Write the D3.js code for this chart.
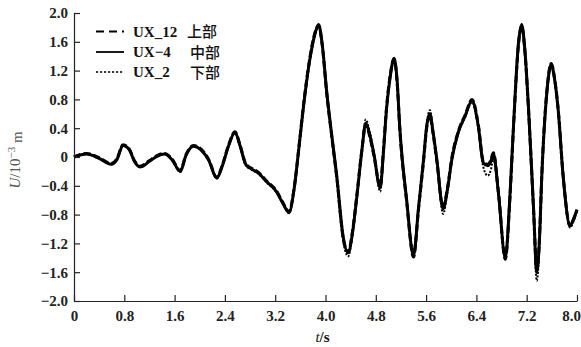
<!DOCTYPE html>
<html>
<head>
<meta charset="utf-8">
<script src="https://cdn.jsdelivr.net/npm/d3@7"></script>
<style>
	body { margin: 0; background: #fff; }
	svg { display: block; }
	text { font-family: "Liberation Serif", "DejaVu Serif", serif; fill: #111; }
	.cjk { font-family: "Noto Sans CJK SC", sans-serif; }
</style>
</head>
<body>
<svg id="chart" width="581" height="347"></svg>
<script>
// time axis (s)
const times = [
	0.00, 0.20, 0.40, 0.59, 0.68, 0.78, 0.88, 0.96, 1.05, 1.20,
	1.32, 1.44, 1.56, 1.69, 1.78, 1.90, 2.02, 2.14, 2.27, 2.36,
	2.46, 2.56, 2.64, 2.73, 2.83, 2.93, 3.06, 3.22, 3.32, 3.42,
	3.50, 3.58, 3.65, 3.75, 3.83, 3.89, 3.95, 4.02, 4.10, 4.18,
	4.28, 4.36, 4.43, 4.50, 4.58, 4.64, 4.70, 4.77, 4.87, 4.92,
	4.97, 5.03, 5.09, 5.14, 5.18, 5.29, 5.40, 5.48, 5.56, 5.61,
	5.66, 5.71, 5.77, 5.87, 5.94, 6.01, 6.11, 6.22, 6.33, 6.43,
	6.51, 6.58, 6.63, 6.67, 6.75, 6.86, 6.93, 6.99, 7.07, 7.12,
	7.17, 7.23, 7.31, 7.36, 7.40, 7.44, 7.52, 7.59, 7.64, 7.70,
	7.78, 7.89, 7.95, 8.00
];
// UX-4 middle (solid)
const ux4 = [
	0.00, 0.04, -0.02, -0.10, -0.04, 0.16, 0.10, -0.06, -0.14, -0.06,
	0.01, 0.04, -0.04, -0.20, 0.02, 0.15, 0.10, -0.04, -0.29, -0.12,
	0.16, 0.34, 0.16, -0.10, -0.17, -0.22, -0.34, -0.48, -0.64, -0.77,
	-0.45, 0.15, 0.70, 1.35, 1.70, 1.84, 1.55, 0.90, 0.30, -0.27,
	-1.10, -1.33, -1.05, -0.54, 0.10, 0.47, 0.32, 0.04, -0.43, 0.05,
	0.66, 1.12, 1.37, 1.05, 0.43, -0.59, -1.37, -0.70, -0.03, 0.43,
	0.60, 0.35, -0.03, -0.72, -0.45, -0.03, 0.34, 0.57, 0.78, 0.43,
	-0.08, -0.12, -0.06, 0.05, -0.50, -1.40, -0.60, 0.43, 1.59, 1.84,
	1.50, 0.66, -0.73, -1.60, -1.20, -0.27, 0.89, 1.29, 1.10, 0.66,
	-0.27, -0.95, -0.85, -0.73
];
// UX_12 top (dashed)
const ux12 = [
	0.00, 0.05, -0.01, -0.09, -0.03, 0.17, 0.11, -0.05, -0.13, -0.05,
	0.02, 0.05, -0.03, -0.19, 0.03, 0.16, 0.11, -0.03, -0.28, -0.11,
	0.17, 0.35, 0.17, -0.09, -0.16, -0.21, -0.33, -0.47, -0.63, -0.76,
	-0.44, 0.16, 0.72, 1.37, 1.72, 1.83, 1.54, 0.88, 0.28, -0.29,
	-1.12, -1.32, -1.03, -0.52, 0.11, 0.46, 0.30, 0.02, -0.40, 0.07,
	0.68, 1.14, 1.36, 1.03, 0.41, -0.61, -1.39, -0.72, -0.05, 0.41,
	0.58, 0.33, -0.05, -0.70, -0.43, -0.01, 0.35, 0.58, 0.80, 0.45,
	-0.06, -0.10, -0.04, 0.06, -0.48, -1.42, -0.62, 0.41, 1.57, 1.82,
	1.48, 0.64, -0.75, -1.58, -1.18, -0.25, 0.91, 1.30, 1.11, 0.67,
	-0.26, -0.96, -0.86, -0.74
];
// UX_2 bottom (dotted)
const ux2 = [
	0.00, 0.04, -0.02, -0.10, -0.04, 0.16, 0.10, -0.06, -0.14, -0.06,
	0.01, 0.04, -0.04, -0.21, 0.02, 0.15, 0.09, -0.05, -0.30, -0.13,
	0.15, 0.33, 0.15, -0.11, -0.18, -0.23, -0.35, -0.49, -0.65, -0.78,
	-0.46, 0.14, 0.68, 1.33, 1.68, 1.82, 1.52, 0.86, 0.26, -0.32,
	-1.16, -1.38, -1.08, -0.57, 0.12, 0.52, 0.36, 0.06, -0.48, 0.02,
	0.62, 1.10, 1.34, 1.02, 0.40, -0.62, -1.30, -0.68, 0.00, 0.46,
	0.65, 0.38, -0.04, -0.79, -0.48, -0.05, 0.32, 0.55, 0.76, 0.40,
	-0.14, -0.26, -0.18, -0.02, -0.55, -1.38, -0.58, 0.45, 1.60, 1.80,
	1.46, 0.62, -0.80, -1.72, -1.28, -0.30, 0.86, 1.27, 1.08, 0.64,
	-0.30, -0.98, -0.88, -0.75
];
const xTicks = [0, 0.8, 1.6, 2.4, 3.2, 4.0, 4.8, 5.6, 6.4, 7.2, 8.0];
const yTicks = [-2.0, -1.6, -1.2, -0.8, -0.4, 0, 0.4, 0.8, 1.2, 1.6, 2.0];
const seriesNames = ['UX_12', 'UX\u22124', 'UX_2'];
const seriesParts = ['上部', '中部', '下部'];

const ChartView = {
	plot: { left: 74, right: 577, top: 13, bottom: 301 },
	xScale: null, yScale: null,
	svg: null,

	init: function() {
		const self = this;
		let plot = self.plot;

		self.svg = d3.select('#chart');
		self.xScale = d3.scaleLinear()
			.domain([ 0, 8 ])
			.range([ plot.left, plot.right ]);
		self.yScale = d3.scaleLinear()
			.domain([ -2, 2 ])
			.range([ plot.bottom, plot.top ]);

		self.drawLine(ux12, '7,3', 3);
		self.drawLine(ux4, null, 3);
		self.drawLine(ux2, '2,1.6', 2);
		self.drawAxes();
		self.drawLegend();
	},

	drawAxes: function() {
		const self = this;
		let svg = self.svg;
		let plot = self.plot;
		let fmt = function(d) { return d === 0 ? '0' : d3.format('.1f')(d); };

		let xAxis = svg.append('g')
			.attr('transform', 'translate(0,' + plot.bottom + ')')
			.call(d3.axisBottom(self.xScale)
				.tickValues(xTicks)
				.tickFormat(fmt)
				.tickSizeInner(-6)
				.tickSizeOuter(0)
				.tickPadding(9));
		let yAxis = svg.append('g')
			.attr('transform', 'translate(' + plot.left + ',0)')
			.call(d3.axisLeft(self.yScale)
				.tickValues(yTicks)
				.tickFormat(fmt)
				.tickSizeInner(-6)
				.tickSizeOuter(0)
				.tickPadding(6));

		[ xAxis, yAxis ].forEach(function(g) {
			g.attr('font-family', null);
			g.selectAll('path, line').style('stroke', '#222').style('stroke-width', 1.2);
			g.selectAll('text')
				.style('font-family', '"Liberation Serif", serif')
				.style('font-size', '15px')
				.style('font-weight', 'bold')
				.style('fill', '#222');
		});
		// keep the last x label inside the frame
		xAxis.selectAll('.tick:last-of-type text').attr('dx', '-6');

		// axis titles
		let xLabel = svg.append('text')
			.attr('x', (plot.left + plot.right) / 2 - 3)
			.attr('y', 342)
			.style('text-anchor', 'middle')
			.style('font-size', '15px')
			.style('font-weight', 'bold');
		xLabel.append('tspan').style('font-style', 'italic').style('font-weight', 'normal').text('t');
		xLabel.append('tspan').text('/s');

		let yLabel = svg.append('text')
			.attr('transform', 'translate(20,' + 160 + ') rotate(-90)')
			.style('text-anchor', 'middle')
			.style('font-size', '15px')
			.style('fill', '#555');
		yLabel.append('tspan').style('font-style', 'italic').text('U');
		yLabel.append('tspan').text('/10');
		yLabel.append('tspan').attr('dy', '-0.45em').style('font-size', '11px').text('\u22123');
		yLabel.append('tspan').attr('dy', '0.45em').text(' m');
	},

	drawLine: function(values, dash, width) {
		const self = this;
		let xScale = self.xScale;
		let yScale = self.yScale;
		let line = d3.line()
			.x(function(d, i) { return xScale(times[i]); })
			.y(function(d) { return yScale(d); })
			.curve(d3.curveMonotoneX);

		self.svg.append('path')
			.datum(values)
			.attr('d', line)
			.style('fill', 'none')
			.style('stroke', '#000')
			.style('stroke-width', width)
			.style('stroke-dasharray', dash)
			.style('stroke-linejoin', 'round');
	},

	drawLegend: function() {
		const self = this;
		let svg = self.svg;
		let dashes = [ '8,5', null, '2.2,1.8' ];
		let widths = [ 1.8, 1.8, 1.4 ];
		let rowY = [ 31.5, 52, 72 ];

		seriesNames.forEach(function(name, i) {
			svg.append('line')
				.attr('x1', 96).attr('x2', 124)
				.attr('y1', rowY[i]).attr('y2', rowY[i])
				.style('stroke', '#000')
				.style('stroke-width', widths[i])
				.style('stroke-dasharray', dashes[i]);
			svg.append('text')
				.attr('x', 133)
				.attr('y', rowY[i] + 5)
				.style('font-size', '15px')
				.style('font-weight', 'bold')
				.text(name);
			svg.append('text')
				.attr('class', 'cjk')
				.attr('x', i == 0 ? 187 : 190)
				.attr('y', rowY[i] + 5.5)
				.style('font-size', '15px')
				.style('font-weight', '500')
				.text(seriesParts[i]);
		});
	}
};

ChartView.init();
</script>
</body>
</html>
